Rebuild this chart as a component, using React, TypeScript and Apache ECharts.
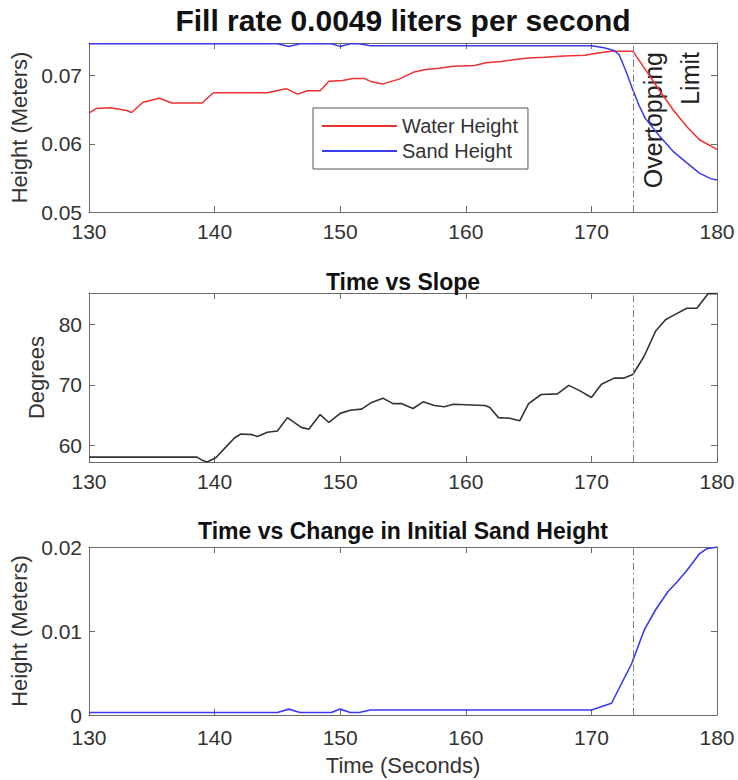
import React, { useEffect, useRef } from "react";
import * as echarts from "echarts";

// ---- data ----
const xTicks = [130, 140, 150, 160, 170, 180];
const heightTicks = [0.05, 0.06, 0.07];
const slopeTicks = [60, 70, 80];
const changeTicks = [0, 0.01, 0.02];
const OVERTOP_T = 173.3;

const waterTime = [130, 130.6, 131.7, 133.0, 133.4, 134.3, 135.6, 136.6, 139.0, 139.9, 144.2, 145.7, 146.6, 147.4, 148.4, 149.1, 150.2, 151.0, 151.9, 152.5, 153.4, 154.7, 155.8, 156.8, 157.9, 159.0, 160.7, 161.6, 162.8, 164.1, 165.0, 166.3, 167.8, 169.5, 170.4, 171.6, 173.3, 174.3, 175.4, 176.5, 177.6, 178.6, 180];
const waterHeight = [0.0645, 0.0652, 0.0653, 0.0649, 0.0646, 0.0661, 0.0667, 0.066, 0.066, 0.0675, 0.0675, 0.0681, 0.0673, 0.0678, 0.0678, 0.0692, 0.0693, 0.0696, 0.0696, 0.0691, 0.0688, 0.0695, 0.0705, 0.0709, 0.0711, 0.0714, 0.0715, 0.0719, 0.0721, 0.0724, 0.0726, 0.0727, 0.0729, 0.073, 0.0733, 0.0736, 0.0736, 0.0709, 0.0679, 0.065, 0.0625, 0.0606, 0.0592];

const sandTime = [130, 145.0, 145.9, 146.8, 149.3, 150.0, 150.8, 151.5, 152.4, 170.0, 171.0, 171.8, 172.2, 172.7, 173.2, 173.8, 174.3, 175.4, 176.5, 177.6, 178.6, 179.5, 180];
const sandHeight = [0.0747, 0.0747, 0.0743, 0.0747, 0.0747, 0.0743, 0.0747, 0.0747, 0.0744, 0.0744, 0.0741, 0.0737, 0.0731, 0.0709, 0.0684, 0.0656, 0.0637, 0.0612, 0.0589, 0.0572, 0.0557, 0.0549, 0.0547];

const slopeTime = [130, 138.6, 139.0, 139.4, 140.1, 141.0, 141.6, 142.1, 143.0, 143.4, 144.2, 145.0, 145.8, 146.9, 147.5, 148.4, 149.1, 150.0, 150.8, 151.7, 152.5, 153.4, 154.2, 154.9, 155.8, 156.6, 157.5, 158.3, 159.0, 161.5, 161.9, 162.6, 163.5, 164.3, 165.0, 166.0, 167.3, 168.2, 169.1, 170.0, 170.8, 171.8, 172.6, 173.3, 174.2, 175.1, 175.9, 176.6, 177.6, 178.4, 179.3, 180];
const slopeDeg = [58.1, 58.1, 57.6, 57.3, 58.0, 60.0, 61.3, 61.9, 61.8, 61.5, 62.2, 62.4, 64.6, 63.0, 62.7, 65.1, 63.8, 65.3, 65.8, 66.0, 67.1, 67.8, 66.9, 66.9, 66.1, 67.2, 66.6, 66.4, 66.8, 66.6, 66.3, 64.6, 64.5, 64.1, 66.9, 68.4, 68.5, 69.9, 69.0, 67.9, 70.1, 71.1, 71.1, 71.7, 74.7, 78.8, 80.7, 81.5, 82.6, 82.6, 85.0, 85.0];

const changeTime = [130, 145.0, 145.9, 146.8, 149.3, 150.0, 150.8, 151.5, 152.4, 170.0, 171.6, 173.2, 174.2, 175.1, 176.1, 176.8, 177.6, 178.6, 179.2, 180];
const changeHeight = [0.0003, 0.0003, 0.0007, 0.0003, 0.0003, 0.0007, 0.0003, 0.0003, 0.0006, 0.0006, 0.0014, 0.0061, 0.0101, 0.0125, 0.0147, 0.0158, 0.0172, 0.0192, 0.0198, 0.02];

const pairs = (xs: number[], ys: number[]) => xs.map((x, i) => [x, ys[i]]);

const FONT = '"Liberation Sans", Arial, Helvetica, sans-serif';
const AXIS = "#6a6a6a";
const LABEL = "#333";

function xAx(gi: number, top: boolean, name?: string, margin = 9) {
  return {
    type: "value",
    gridIndex: gi,
    min: 130,
    max: 180,
    position: top ? "top" : "bottom",
    axisLine: { show: true, onZero: false, lineStyle: { color: AXIS, width: 1 } },
    axisTick: { show: true, inside: true, length: 6, customValues: xTicks, lineStyle: { color: AXIS } },
    axisLabel: { show: !top, customValues: xTicks, fontSize: 21, color: LABEL, margin, fontFamily: FONT },
    splitLine: { show: false },
    name: name || "",
    nameLocation: "middle",
    nameGap: 39,
    nameTextStyle: { fontSize: 22, color: LABEL, fontFamily: FONT },
  };
}

function yAx(gi: number, right: boolean, min: number, max: number, ticks: number[], fmt: (v: number) => string, name?: string, gap?: number) {
  return {
    type: "value",
    gridIndex: gi,
    min,
    max,
    position: right ? "right" : "left",
    axisLine: { show: true, onZero: false, lineStyle: { color: AXIS, width: 1 } },
    axisTick: { show: true, inside: true, length: 6, customValues: ticks, lineStyle: { color: AXIS } },
    axisLabel: { show: !right, customValues: ticks, fontSize: 21, lineHeight: 16, color: LABEL, margin: 7, formatter: fmt, fontFamily: FONT },
    splitLine: { show: false },
    name: name || "",
    nameLocation: "middle",
    nameRotate: 90,
    nameGap: gap || 50,
    nameTextStyle: { fontSize: 22, color: LABEL, fontFamily: FONT },
  };
}

const markLine = {
  silent: true,
  symbol: "none",
  label: { show: false },
  lineStyle: { color: "#808080", type: [7, 3, 1.5, 3], width: 1 },
  data: [{ xAxis: OVERTOP_T }],
};

export default function App() {
  const ref = useRef<HTMLDivElement>(null);
  useEffect(() => {
    if (!ref.current) return;
    const chart = echarts.init(ref.current, undefined, { renderer: "svg" });
    const fmt2 = (v: number) => (v === 0 ? "0" : v.toFixed(2));
    const option: any = {
      animation: false,
      backgroundColor: "#fff",
      textStyle: { fontFamily: FONT },
      title: [
        { text: "Fill rate 0.0049 liters per second", left: 398, textAlign: "center", top: 0, textStyle: { fontSize: 30, fontWeight: "bold", color: "#111", fontFamily: FONT } },
        { text: "Time vs Slope", left: 398, textAlign: "center", top: 265, textStyle: { fontSize: 23, fontWeight: "bold", color: "#111", fontFamily: FONT } },
        { text: "Time vs Change in Initial Sand Height", left: 398, textAlign: "center", top: 514, textStyle: { fontSize: 23, fontWeight: "bold", color: "#111", fontFamily: FONT } },
      ],
      legend: {
        data: ["Water Height", "Sand Height"],
        orient: "vertical",
        left: 313,
        top: 108,
        icon: "rect",
        itemWidth: 75,
        itemHeight: 2,
        itemGap: 5,
        padding: [8, 10, 8, 9],
        backgroundColor: "#fff",
        borderColor: "#555",
        borderWidth: 1,
        textStyle: { fontSize: 20, color: LABEL, fontFamily: FONT },
      },
      grid: [
        { left: 89, right: 21, top: 43, height: 169 },
        { left: 89, right: 21, top: 293, height: 169 },
        { left: 89, right: 21, top: 547, height: 168 },
      ],
      xAxis: [xAx(0, false), xAx(1, false), xAx(2, false, "Time (Seconds)", 12), xAx(0, true), xAx(1, true), xAx(2, true)],
      yAxis: [
        yAx(0, false, 0.05, 0.0748, heightTicks, fmt2, "Height (Meters)", 55),
        yAx(1, false, 57.3, 85.1, slopeTicks, (v: number) => String(Math.round(v)), "Degrees", 38),
        yAx(2, false, 0, 0.02, changeTicks, fmt2, "Height (Meters)", 55),
        yAx(0, true, 0.05, 0.0748, heightTicks, fmt2),
        yAx(1, true, 57.3, 85.1, slopeTicks, fmt2),
        yAx(2, true, 0, 0.02, changeTicks, fmt2),
      ],
      series: [
        { name: "Water Height", type: "line", xAxisIndex: 0, yAxisIndex: 0, data: pairs(waterTime, waterHeight), showSymbol: false, lineStyle: { color: "#ee3030", width: 1.5 }, itemStyle: { color: "#ee3030" }, markLine },
        { name: "Sand Height", type: "line", xAxisIndex: 0, yAxisIndex: 0, data: pairs(sandTime, sandHeight), showSymbol: false, lineStyle: { color: "#3a3aee", width: 1.5 }, itemStyle: { color: "#3a3aee" } },
        { name: "Slope", type: "line", xAxisIndex: 1, yAxisIndex: 1, data: pairs(slopeTime, slopeDeg), showSymbol: false, lineStyle: { color: "#333", width: 1.6 }, itemStyle: { color: "#333" }, markLine },
        { name: "Change", type: "line", xAxisIndex: 2, yAxisIndex: 2, data: pairs(changeTime, changeHeight), showSymbol: false, lineStyle: { color: "#3a3aee", width: 1.6 }, itemStyle: { color: "#3a3aee" }, markLine },
      ],
      graphic: [
        { type: "text", x: 653, y: 52, rotation: Math.PI / 2, style: { text: "Overtopping", font: `25px ${FONT}`, fill: "#222", align: "right", verticalAlign: "middle" } },
        { type: "text", x: 690, y: 52, rotation: Math.PI / 2, style: { text: "Limit", font: `25px ${FONT}`, fill: "#222", align: "right", verticalAlign: "middle" } },
      ],
    };
    chart.setOption(option);
    return () => chart.dispose();
  }, []);
  return <div ref={ref} style={{ position: "fixed", left: 0, top: 0, width: 738, height: 780, background: "#fff" }} />;
}
